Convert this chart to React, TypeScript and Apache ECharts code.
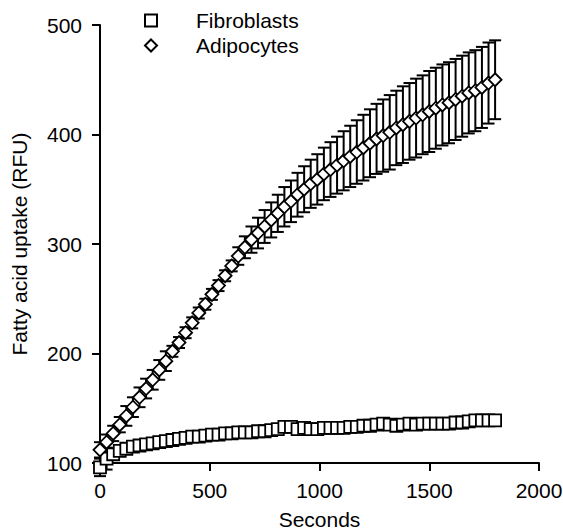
import React, { useEffect, useRef } from "react";
import * as echarts from "echarts";

const seconds: number[] = [
  0, 30, 60, 90, 120, 150, 180, 210, 240, 270, 300, 330, 360, 390, 420, 450, 480, 510, 540, 570,
  600, 630, 660, 690, 720, 750, 780, 810, 840, 870, 900, 930, 960, 990, 1020, 1050, 1080, 1110,
  1140, 1170, 1200, 1230, 1260, 1290, 1320, 1350, 1380, 1410, 1440, 1470, 1500, 1530, 1560, 1590,
  1620, 1650, 1680, 1710, 1740, 1770, 1800,
];

const fibroblastMean: number[] = [
  96, 104, 108, 111, 113, 115, 116, 117, 118, 119, 120, 121, 122, 123, 124, 124, 125, 126, 126, 127,
  127, 128, 128, 128, 129, 129, 130, 131, 133, 133, 131, 132, 131, 131, 132, 132, 132, 132,
  133, 133, 134, 134, 135, 136, 135, 134, 135, 136, 135, 136, 136, 136, 136, 136,
  137, 137, 138, 139, 139, 139, 139,
];

const fibroblastSD: number[] = [
  8, 10, 5, 3, 3, 3, 3, 3, 3, 3, 3, 3, 3, 3, 3, 3, 3, 3, 3, 3,
  3, 3, 3, 3, 3, 3, 3, 3, 3, 3, 3, 3, 3, 3, 3, 3, 3, 3,
  3, 3, 3, 3, 3, 3, 3, 3, 3, 3, 3, 3, 3, 3, 3, 3,
  3, 3, 3, 3, 3, 3, 3,
];

const adipocyteMean: number[] = [
  112, 119, 127, 135, 143, 151, 160, 168, 176, 185, 193, 202, 210, 219, 228, 237, 245, 254, 262, 271,
  280, 289, 297, 304, 310, 316, 322, 328, 334, 339, 345, 350, 355, 359, 364, 368, 372, 376,
  380, 384, 388, 392, 396, 399, 402, 406, 409, 412, 415, 418, 421, 424, 427, 429,
  432, 435, 438, 440, 443, 447, 450,
];

const adipocyteSD: number[] = [
  7, 7, 7, 7, 9, 9, 9, 9, 9, 9, 9, 5, 5, 5, 5, 5, 5, 5, 5, 5,
  5, 8, 10, 12, 14, 15, 16, 17, 18, 19, 20, 21, 22, 23, 24, 25, 26, 27,
  28, 29, 30, 31, 32, 33, 34, 34, 35, 35, 36, 36, 37, 37, 37, 37,
  37, 37, 37, 37, 37, 37, 36,
];

const seriesNames: string[] = ["Fibroblasts", "Adipocytes"];
const xAxisTitle = "Seconds";
const yAxisTitle = "Fatty acid uptake (RFU)";

const FONT = '"Liberation Sans", Arial, Helvetica, sans-serif';

function errorData(mean: number[], sd: number[]) {
  return seconds.map((t, i) => [t, mean[i] - sd[i], mean[i] + sd[i]]);
}

function pointData(mean: number[]) {
  return seconds.map((t, i) => [t, mean[i]]);
}

const errorRender = (params: any, api: any) => {
  const x = api.value(0);
  const lo = api.value(1);
  const hi = api.value(2);
  const top = api.coord([x, hi]);
  const bot = api.coord([x, lo]);
  const w = 6;
  const style = { stroke: "#000", lineWidth: 2 };
  return {
    type: "group",
    children: [
      { type: "line", shape: { x1: top[0], y1: top[1], x2: bot[0], y2: bot[1] }, style },
      { type: "line", shape: { x1: top[0] - w, y1: top[1], x2: top[0] + w, y2: top[1] }, style },
      { type: "line", shape: { x1: bot[0] - w, y1: bot[1], x2: bot[0] + w, y2: bot[1] }, style },
    ],
  };
};

export default function App() {
  const ref = useRef<HTMLDivElement>(null);
  useEffect(() => {
    document.body.style.margin = "0";
    if (!ref.current) return;
    const chart = echarts.init(ref.current, null, { renderer: "svg" });
    const axisLine = { show: true, onZero: false, lineStyle: { color: "#000", width: 2 } };
    const axisTick = { show: true, inside: false, length: 8, lineStyle: { color: "#000", width: 2 } };
    chart.setOption({
      animation: false,
      backgroundColor: "#fff",
      textStyle: { fontFamily: FONT },
      grid: { left: 100, right: 24, top: 25, bottom: 68, outerBoundsMode: "none", containLabel: false },
      legend: {
        orient: "vertical",
        left: 139,
        top: 5,
        itemGap: 4,
        itemWidth: 12,
        itemHeight: 12,
        data: seriesNames,
        textStyle: { fontFamily: FONT, fontSize: 21, color: "#000", padding: [0, 0, 0, 34] },
      },
      xAxis: {
        type: "value",
        min: 0,
        max: 2000,
        interval: 500,
        name: xAxisTitle,
        nameLocation: "middle",
        nameGap: 46,
        nameTextStyle: { fontFamily: FONT, fontSize: 21, color: "#000" },
        axisLine,
        axisTick,
        splitLine: { show: false },
        axisLabel: {
          fontFamily: FONT,
          fontSize: 21,
          color: "#000",
          margin: 17,
          formatter: (v: number) => String(v),
        },
      },
      yAxis: {
        type: "value",
        min: 100,
        max: 500,
        interval: 100,
        name: yAxisTitle,
        nameLocation: "middle",
        nameGap: 70,
        nameTextStyle: { fontFamily: FONT, fontSize: 21, color: "#000" },
        axisLine,
        axisTick,
        splitLine: { show: false },
        axisLabel: {
          fontFamily: FONT,
          fontSize: 21,
          color: "#000",
          margin: 18,
          formatter: (v: number) => String(v),
        },
      },
      series: [
        {
          type: "custom",
          name: seriesNames[0] + " SD",
          renderItem: errorRender,
          data: errorData(fibroblastMean, fibroblastSD),
          encode: { x: 0, y: [1, 2] },
          clip: false,
          z: 1,
        },
        {
          type: "custom",
          name: seriesNames[1] + " SD",
          renderItem: errorRender,
          data: errorData(adipocyteMean, adipocyteSD),
          encode: { x: 0, y: [1, 2] },
          clip: false,
          z: 1,
        },
        {
          type: "scatter",
          name: seriesNames[0],
          symbol: "rect",
          symbolSize: 12,
          data: pointData(fibroblastMean),
          clip: false,
          itemStyle: { color: "#fff", borderColor: "#000", borderWidth: 1.8, opacity: 1 },
          z: 3,
        },
        {
          type: "scatter",
          name: seriesNames[1],
          symbol: "diamond",
          symbolSize: 13,
          data: pointData(adipocyteMean),
          clip: false,
          itemStyle: { color: "#fff", borderColor: "#000", borderWidth: 1.8, opacity: 1 },
          z: 4,
        },
      ],
    });
    return () => chart.dispose();
  }, []);
  return <div ref={ref} style={{ width: 563, height: 531 }} />;
}
